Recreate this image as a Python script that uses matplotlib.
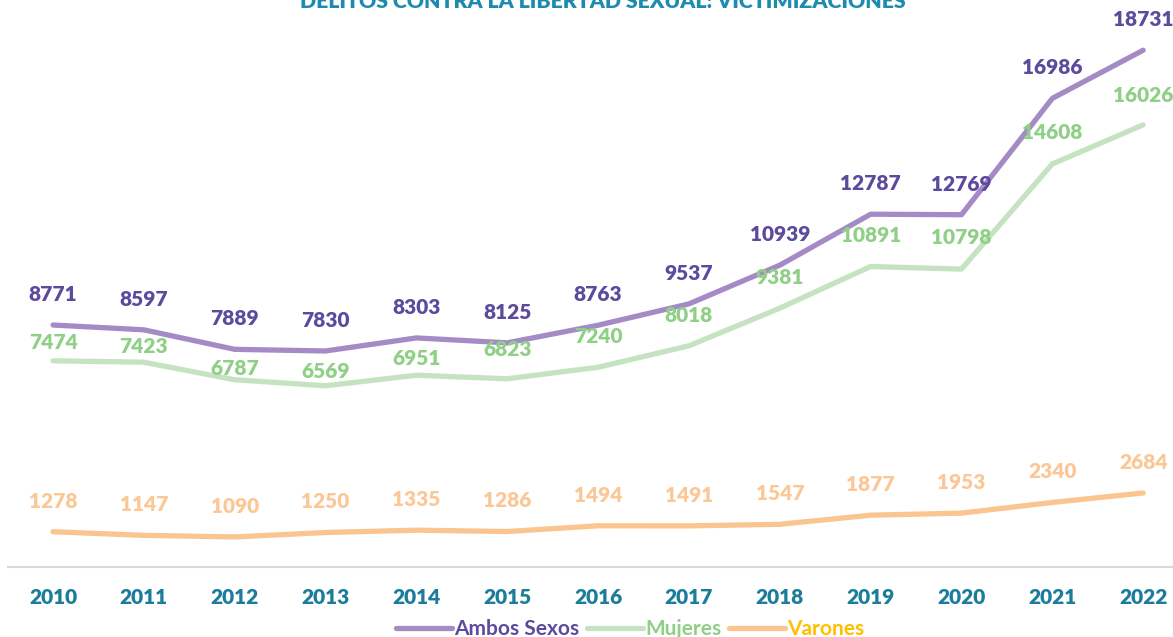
import matplotlib.pyplot as plt

years = [2010, 2011, 2012, 2013, 2014, 2015, 2016, 2017, 2018, 2019, 2020, 2021, 2022]
ambos = [8771, 8597, 7889, 7830, 8303, 8125, 8763, 9537, 10939, 12787, 12769, 16986, 18731]
mujeres = [7474, 7423, 6787, 6569, 6951, 6823, 7240, 8018, 9381, 10891, 10798, 14608, 16026]
varones = [1278, 1147, 1090, 1250, 1335, 1286, 1494, 1491, 1547, 1877, 1953, 2340, 2684]

# label offsets (points) for the green series, placed by hand in the original
muj_off = [13, 11, 8, 10, 12, 21, 22, 22, 22, 22, 23, 23, 21]

plt.rcParams['font.family'] = ['Lato', 'DejaVu Sans']
FS = 15

fig = plt.figure(figsize=(11.73, 6.37), dpi=100)
ax = fig.add_axes([7.6 / 1173, 70 / 637, 1181 / 1173, 551.8 / 637])

c_amb_line, c_amb_txt = '#a48bc6', '#5b4a9e'
c_muj_line, c_muj_txt = '#c5e3c1', '#8fcf86'
c_var_line, c_var_txt = '#fbc590', '#fbc796'

ax.plot(years, ambos, color=c_amb_line, lw=3.8, solid_capstyle='round', label='Ambos Sexos')
ax.plot(years, mujeres, color=c_muj_line, lw=3.8, solid_capstyle='round', label='Mujeres')
ax.plot(years, varones, color=c_var_line, lw=3.8, solid_capstyle='round', label='Varones')

for i, y in enumerate(years):
    ax.annotate(str(ambos[i]), (y, ambos[i]), xytext=(0, 22), textcoords='offset points',
                ha='center', va='center', fontsize=FS, fontweight='heavy', color=c_amb_txt)
    ax.annotate(str(mujeres[i]), (y, mujeres[i]), xytext=(0, muj_off[i]), textcoords='offset points',
                ha='center', va='center', fontsize=FS, fontweight='heavy', color=c_muj_txt)
    ax.annotate(str(varones[i]), (y, varones[i]), xytext=(0, 22), textcoords='offset points',
                ha='center', va='center', fontsize=FS, fontweight='heavy', color=c_var_txt)

ax.set_xlim(2009.5, 2022.5)
ax.set_ylim(0, 20000)
ax.set_xticks(years)
ax.set_xticklabels([str(y) for y in years], fontsize=FS, fontweight='heavy', color='#1b7c9c')
ax.tick_params(axis='x', length=0, pad=15)
ax.set_yticks([])
for s in ['top', 'right', 'left']:
    ax.spines[s].set_visible(False)
ax.spines['bottom'].set_color('#d9d9d9')
ax.spines['bottom'].set_linewidth(1.5)

# title is partly cut off at the top edge, as in the original
fig.text(603 / 1173, 1 - 2 / 637, 'DELITOS CONTRA LA LIBERTAD SEXUAL: VICTIMIZACIONES',
         ha='center', va='center', fontsize=15.3, fontweight='heavy', color='#1d8bb0')

leg = fig.legend(loc='center', bbox_to_anchor=(630 / 1173, 1 - 629 / 637), ncol=3, frameon=False,
                 fontsize=FS, handlelength=2.7, handletextpad=0.1, columnspacing=0.35)
for t, c in zip(leg.get_texts(), [c_amb_txt, '#8fcf86', '#ffc000']):
    t.set_color(c)
    t.set_fontweight('bold')

fig.savefig('out.png', dpi=100)
